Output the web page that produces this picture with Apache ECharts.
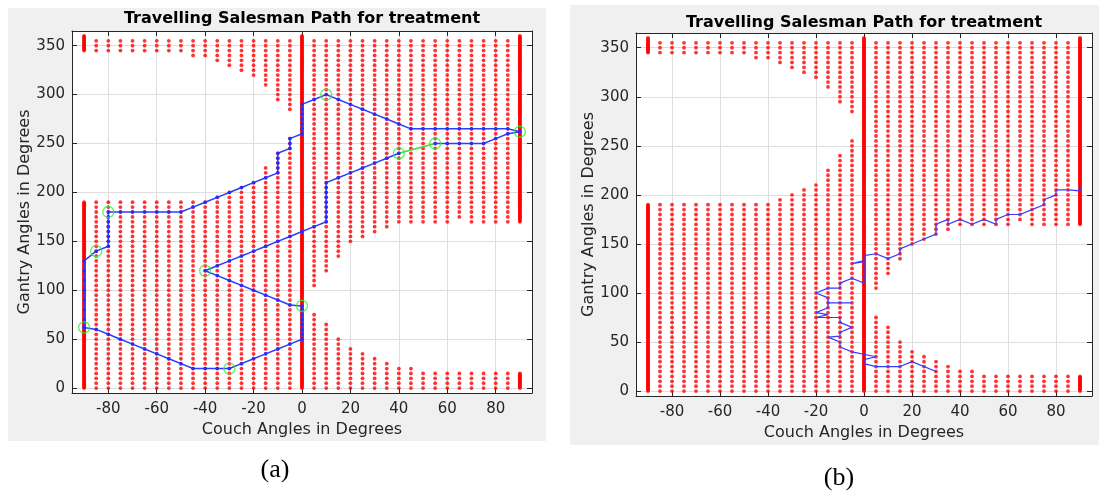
<!DOCTYPE html>
<html>
<head>
<meta charset="utf-8">
<script src="https://cdn.jsdelivr.net/npm/echarts@6/dist/echarts.min.js"></script>
<style>
html, body { margin: 0; padding: 0; background: #fff; }
#chart { width: 1099px; height: 493px; }
</style>
</head>
<body>
<div id="chart"></div>
<script>
// columns of the feasible couch / gantry grid
const couchAngles = [-90, -85, -80, -75, -70, -65, -60, -55, -50, -45, -40, -35, -30, -25, -20, -15, -10, -5,
  0, 5, 10, 15, 20, 25, 30, 35, 40, 45, 50, 55, 60, 65, 70, 75, 80, 85, 90]
// lower band of each column: 0 .. lowBandTop
const lowBandTop = [190, 190, 190, 190, 190, 190, 190, 190, 190, 190, 190, 195, 200, 205, 210, 225, 240, 255,
  360, 75, 65, 50, 40, 35, 30, 25, 20, 20, 15, 15, 15, 15, 15, 15, 15, 15, 15]
// upper band of each column: highBandBottom .. highBandTop (null = no upper band)
const highBandBottom = [345, 345, 345, 345, 345, 345, 345, 345, 345, 340, 340, 335, 330, 325, 320, 310, 295, 285,
  null, 105, 120, 135, 150, 155, 160, 165, 170, 170, 170, 170, 170, 175, 170, 170, 170, 170, 170]
const highBandTop = [360, 355, 355, 355, 355, 355, 355, 355, 355, 355, 355, 355, 355, 355, 355, 355, 355, 355,
  null, 355, 355, 355, 355, 355, 355, 355, 355, 355, 355, 355, 355, 355, 355, 355, 355, 355, 360]
// these columns are sampled every degree, the others every 5 degrees
const denseColumns = [-90, 0, 90]

// tour (a): visited points in order
const tourA = [
  [-90, 62], [-85, 60], [-80, 55], [-75, 50], [-70, 45], [-65, 40], [-60, 35], [-55, 30], [-50, 25], [-45, 20],
  [-40, 20], [-35, 20], [-30, 20], [-25, 25], [-20, 30], [-15, 35], [-10, 40], [-5, 45], [0, 50],
  [0, 55], [0, 60], [0, 65], [0, 70], [0, 75], [0, 80], [0, 84],
  [-5, 85], [-10, 90], [-15, 95], [-20, 100], [-25, 105], [-30, 110], [-35, 115], [-40, 120],
  [-35, 125], [-30, 130], [-25, 135], [-20, 140], [-15, 145], [-10, 150], [-5, 155], [0, 160], [5, 165], [10, 170],
  [10, 175], [10, 180], [10, 185], [10, 190], [10, 195], [10, 200], [10, 205], [10, 210],
  [15, 215], [20, 220], [25, 225], [30, 230], [35, 235], [40, 240]
]
const tourA2 = [
  [55, 250], [60, 250], [65, 250], [70, 250], [75, 250], [80, 255], [85, 260], [90, 262],
  [85, 265], [80, 265], [75, 265], [70, 265], [65, 265], [60, 265], [55, 265], [50, 265], [45, 265],
  [40, 270], [35, 275], [30, 280], [25, 285], [20, 290], [15, 295], [10, 300], [5, 295], [0, 290],
  [0, 285], [0, 280], [0, 275], [0, 270], [0, 265], [0, 260],
  [-5, 255], [-5, 250], [-5, 245], [-10, 240], [-10, 235], [-10, 230], [-10, 225], [-10, 220],
  [-15, 215], [-20, 210], [-25, 205], [-30, 200], [-35, 195], [-40, 190], [-45, 185], [-50, 180],
  [-55, 180], [-60, 180], [-65, 180], [-70, 180], [-75, 180], [-80, 180],
  [-80, 175], [-80, 170], [-80, 165], [-80, 160], [-80, 155], [-80, 150], [-80, 145], [-85, 140],
  [-90, 130], [-90, 120], [-90, 110], [-90, 100], [-90, 90], [-90, 80], [-90, 70], [-90, 62]
]
const greenLegA = [[40, 240], [55, 250]]
const circledA = [[-90, 62], [-85, 140], [-80, 180], [-40, 120], [-30, 20], [0, 84], [10, 300], [40, 240], [55, 250], [90, 262]]

// tour (b)
const tourB = [
  [30, 20], [20, 30], [15, 25], [5, 25], [0, 28], [0, 32], [5, 35], [-5, 40], [-10, 45], [-10, 50],
  [-15, 55], [-10, 56], [-10, 60], [-5, 65], [-10, 70], [-10, 75], [-20, 75], [-15, 78], [-20, 80],
  [-15, 85], [-15, 90], [-5, 90], [-15, 90], [-15, 95], [-20, 100], [-15, 105], [-10, 105], [-10, 110], [-5, 115],
  [0, 110], [0, 132], [-5, 130], [0, 133], [0, 138], [5, 140], [10, 135], [15, 140], [15, 145], [20, 150],
  [25, 155], [30, 160], [30, 170], [35, 175], [35, 170], [40, 175], [45, 170], [50, 175], [55, 170],
  [55, 175], [60, 180], [65, 180], [70, 185], [75, 190], [75, 195], [80, 200], [80, 205], [85, 205],
  [90, 204], [90, 209]
]

const xTicks = [-80, -60, -40, -20, 0, 20, 40, 60, 80]
const yTicks = [0, 50, 100, 150, 200, 250, 300, 350]

// build the dot grid from the column bands
const gridDots = []
couchAngles.forEach((c, i) => {
  const step = denseColumns.includes(c) ? 1 : 5
  for (let g = 0; g <= lowBandTop[i]; g += step) gridDots.push([c, g])
  if (highBandBottom[i] !== null) {
    for (let g = highBandBottom[i]; g <= highBandTop[i]; g += step) gridDots.push([c, g])
  }
})

const ink = '#262626'
const font = 'DejaVu Sans'

function axesFor(gi) {
  const x = {
    gridIndex: gi, type: 'value', min: -95, max: 95,
    axisLine: { show: true, onZero: false, lineStyle: { color: ink, width: 1 } },
    axisTick: { show: true, inside: true, length: 5, customValues: xTicks, lineStyle: { color: ink } },
    axisLabel: { customValues: xTicks, color: ink, fontFamily: font, fontSize: 15, margin: 9 },
    splitLine: { show: true, lineStyle: { color: '#dedede', width: 1 } },
    name: 'Couch Angles in Degrees', nameLocation: 'middle', nameGap: 28,
    nameTextStyle: { color: ink, fontFamily: font, fontSize: 16 }
  }
  const xTop = {
    gridIndex: gi, type: 'value', min: -95, max: 95, position: 'top',
    axisLine: { show: true, onZero: false, lineStyle: { color: ink } },
    axisTick: { show: true, inside: true, length: 5, customValues: xTicks, lineStyle: { color: ink } },
    axisLabel: { show: false }, splitLine: { show: false }
  }
  const y = {
    gridIndex: gi, type: 'value', min: -5, max: 365,
    axisLine: { show: true, onZero: false, lineStyle: { color: ink } },
    axisTick: { show: true, inside: true, length: 5, customValues: yTicks, lineStyle: { color: ink } },
    axisLabel: { customValues: yTicks, color: ink, fontFamily: font, fontSize: 15, margin: 7 },
    splitLine: { show: true, lineStyle: { color: '#dedede', width: 1 } },
    name: 'Gantry Angles in Degrees', nameLocation: 'middle', nameGap: 31,
    nameTextStyle: { color: ink, fontFamily: font, fontSize: 16 }
  }
  const yRight = {
    gridIndex: gi, type: 'value', min: -5, max: 365, position: 'right',
    axisLine: { show: true, onZero: false, lineStyle: { color: ink } },
    axisTick: { show: true, inside: true, length: 5, customValues: yTicks, lineStyle: { color: ink } },
    axisLabel: { show: false }, splitLine: { show: false }
  }
  return { x: [x, xTop], y: [y, yRight] }
}

const axA = axesFor(0)
const axB = axesFor(1)

const dotsSeries = (gi) => ({
  type: 'scatter', xAxisIndex: gi * 2, yAxisIndex: gi * 2, data: gridDots,
  symbol: 'circle', symbolSize: 3.8, itemStyle: { color: '#ff0000' }, silent: true, animation: false
})

const chart = echarts.init(document.getElementById('chart'))
chart.setOption({
  animation: false,
  backgroundColor: '#ffffff',
  graphic: [
    { type: 'rect', shape: { x: 8, y: 8, width: 538, height: 433 }, style: { fill: '#f0f0f0' }, z: -10 },
    { type: 'rect', shape: { x: 570, y: 5, width: 529, height: 440 }, style: { fill: '#f0f0f0' }, z: -10 }
  ],
  title: [
    { text: 'Travelling Salesman Path for treatment', left: 302, top: 11, textAlign: 'center', padding: 0,
      textStyle: { fontFamily: font, fontSize: 16, fontWeight: 'bold', color: '#000' } },
    { text: 'Travelling Salesman Path for treatment', left: 864, top: 15, textAlign: 'center', padding: 0,
      textStyle: { fontFamily: font, fontSize: 16, fontWeight: 'bold', color: '#000' } },
    { text: '(a)', left: 275, top: 457, textAlign: 'center', padding: 0,
      textStyle: { fontFamily: 'Liberation Serif', fontSize: 26, fontWeight: 'normal', color: '#000' } },
    { text: '(b)', left: 839, top: 465, textAlign: 'center', padding: 0,
      textStyle: { fontFamily: 'Liberation Serif', fontSize: 26, fontWeight: 'normal', color: '#000' } }
  ],
  grid: [
    { left: 72, top: 31, width: 460, height: 362, show: true, backgroundColor: '#ffffff', borderWidth: 0 },
    { left: 636, top: 33, width: 456, height: 363, show: true, backgroundColor: '#ffffff', borderWidth: 0 }
  ],
  xAxis: [...axA.x, ...axB.x],
  yAxis: [...axA.y, ...axB.y],
  series: [
    dotsSeries(0),
    dotsSeries(1),
    { type: 'line', xAxisIndex: 0, yAxisIndex: 0, data: tourA, symbol: 'circle', symbolSize: 3.5, showSymbol: true,
      lineStyle: { color: '#2b3dff', width: 1.5 }, itemStyle: { color: '#1f2fff' }, z: 5 },
    { type: 'line', xAxisIndex: 0, yAxisIndex: 0, data: tourA2, symbol: 'circle', symbolSize: 3.5, showSymbol: true,
      lineStyle: { color: '#2b3dff', width: 1.5 }, itemStyle: { color: '#1f2fff' }, z: 5 },
    { type: 'line', xAxisIndex: 0, yAxisIndex: 0, data: greenLegA, symbol: 'none',
      lineStyle: { color: '#3ddc3d', width: 1.5 }, z: 5 },
    { type: 'scatter', xAxisIndex: 0, yAxisIndex: 0, data: circledA, symbol: 'circle', symbolSize: 11,
      itemStyle: { color: 'rgba(0,0,0,0)', borderColor: '#33ee33', borderWidth: 1.3 }, z: 6 },
    { type: 'line', xAxisIndex: 2, yAxisIndex: 2, data: tourB, symbol: 'none',
      lineStyle: { color: '#3a3aff', width: 1.2 }, z: 5 }
  ]
})
</script>
</body>
</html>
